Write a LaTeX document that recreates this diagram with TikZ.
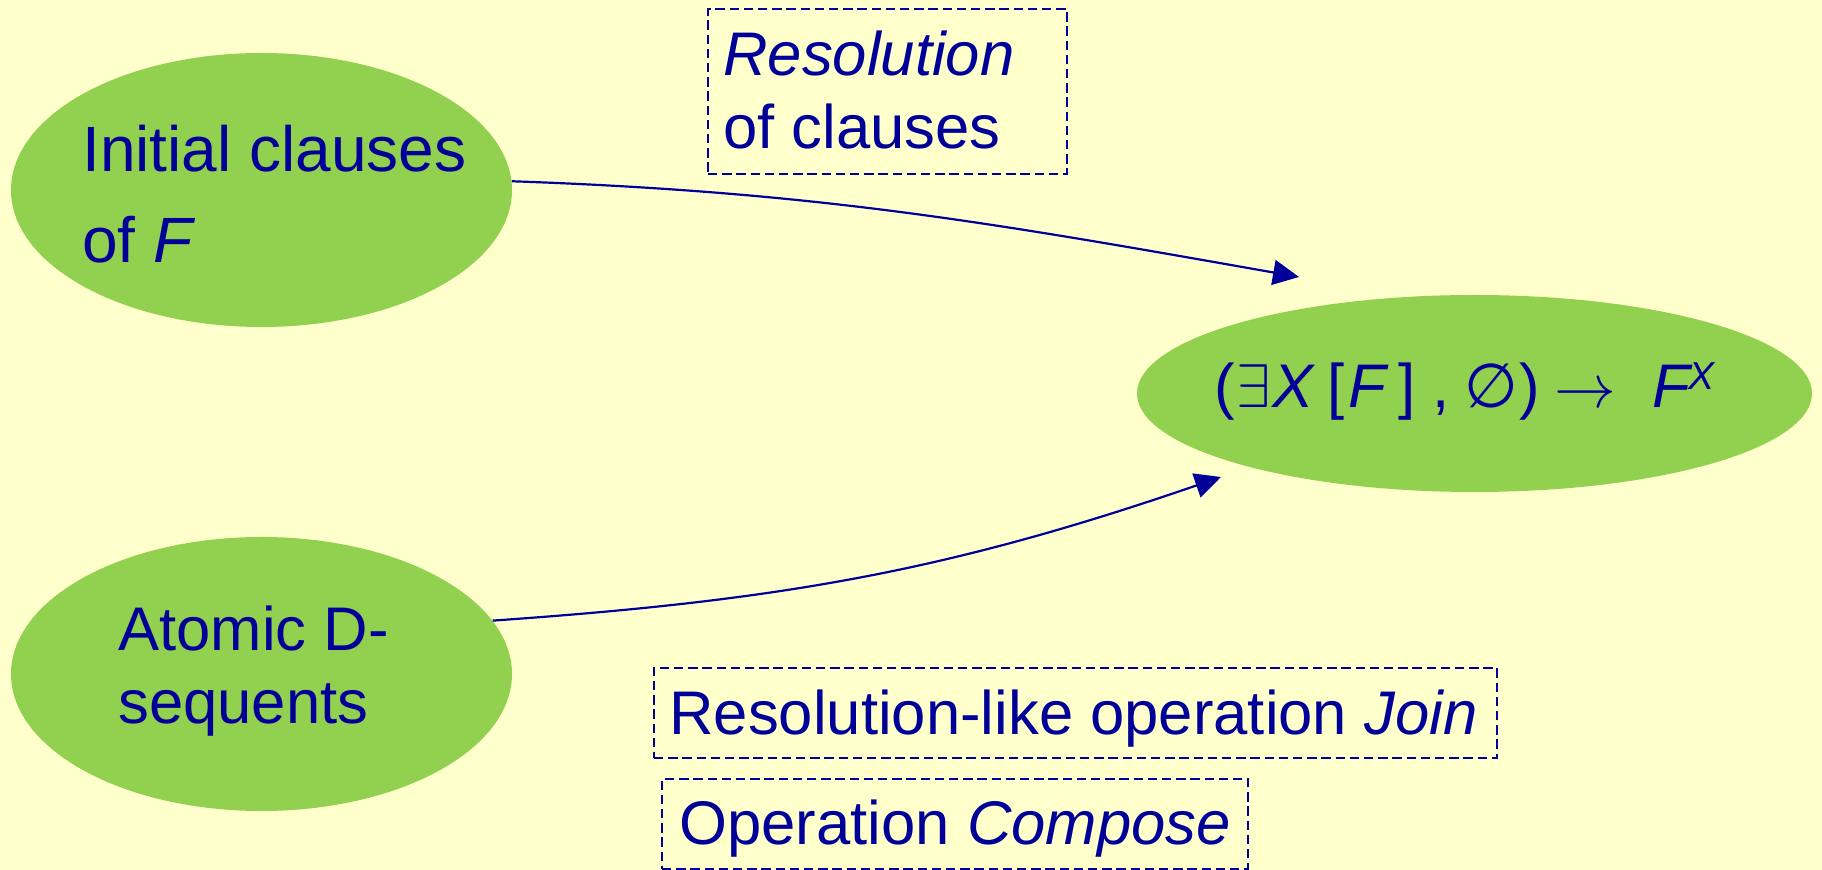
\documentclass[tikz,border=0pt]{standalone}
\usepackage{fontspec}
\setmainfont{Liberation Sans}
\newfontfamily\symfont{DejaVu Sans}
\DeclareFontShape{OMS}{cmsy}{m}{n}{<->cmsy10}{}
\usetikzlibrary{shapes.geometric,arrows.meta}
\definecolor{bg}{HTML}{FFFFCC}
\definecolor{eg}{HTML}{92D050}
\definecolor{tb}{HTML}{000099}
\newcommand{\gl}[2]{\makebox[#1][l]{#2}}
\newcommand{\gc}[2]{\makebox[#1][c]{#2}}
\begin{document}
\begin{tikzpicture}[x=0.5pt,y=-0.5pt,
  blob/.style={ellipse, fill=eg, draw=none, inner sep=0pt},
  lbl/.style={anchor=base west, inner sep=0pt, text=tb, font=\fontsize{30.8}{36}\selectfont},
  biglbl/.style={lbl, font=\fontsize{32}{38}\selectfont},
  dbox/.style={draw=tb, line width=0.9pt, dash pattern=on 4.7pt off 2.4pt, inner sep=0pt, anchor=north west},
  conn/.style={draw=tb, line width=1.1pt, -{Triangle[length=13pt,width=12.5pt]}}]
\fill[bg] (0,0) rectangle (1822,870);
\useasboundingbox (0,0) rectangle (1822,870);
% ellipses
\node[blob, minimum width=250.5pt, minimum height=137pt] (e1) at (261.5,190) {};
\node[blob, minimum width=250.5pt, minimum height=137pt] (e2) at (261.5,674) {};
\node[blob, minimum width=337.5pt, minimum height=98.5pt] (e3) at (1474.5,393.5) {};
% ellipse texts
\node[biglbl] (t1a) at (82,172) {Initial clauses};
\node[biglbl] (t1b) at (82,263) {of \textit{F}};
\node[lbl] (t2a) at (118,651) {Atomic D-};
\node[lbl] (t2b) at (118,724) {sequents};
\node[lbl] (t3) at (1214,408) {\gl{11pt}{(}\gl{18pt}{$\exists$}\gl{27.5pt}{\textit{X}}\gl{10.5pt}{[}\gl{25pt}{\textit{F}}\gl{17pt}{]}\gl{15.5pt}{,}\gc{28pt}{{\symfont ∅}}\gl{16.5pt}{)}\gc{32.5pt}{$\rightarrow$}\hspace{17.5pt}\gl{18pt}{\textit{F}}\raisebox{9pt}{\fontsize{19.5}{22}\selectfont\textit{X}}};
% dashed boxes
\node[dbox, minimum width=179.5pt, minimum height=82.5pt] (b1) at (707,8) {};
\node[dbox, minimum width=421.5pt, minimum height=45pt] (b2) at (653,667) {};
\node[dbox, minimum width=293pt, minimum height=45pt] (b3) at (661,778) {};
\node[lbl] (b1a) at (723,76) {\textit{Resolution}};
\node[lbl] (b1b) at (723,149) {of clauses};
\node[lbl] (b2a) at (669,735) {Resolution-like operation \textit{Join}};
\node[lbl] (b3a) at (679,845) {Operation \textit{Compose}};
% arrows
\coordinate (k1) at (1299,277);
\coordinate (k2) at (1221,477);
\draw[conn] (e1.2) to[out=-2, in=170] (k1);
\draw[conn] (e2.13) to[out=4, in=-161] (k2);
\end{tikzpicture}
\end{document}
